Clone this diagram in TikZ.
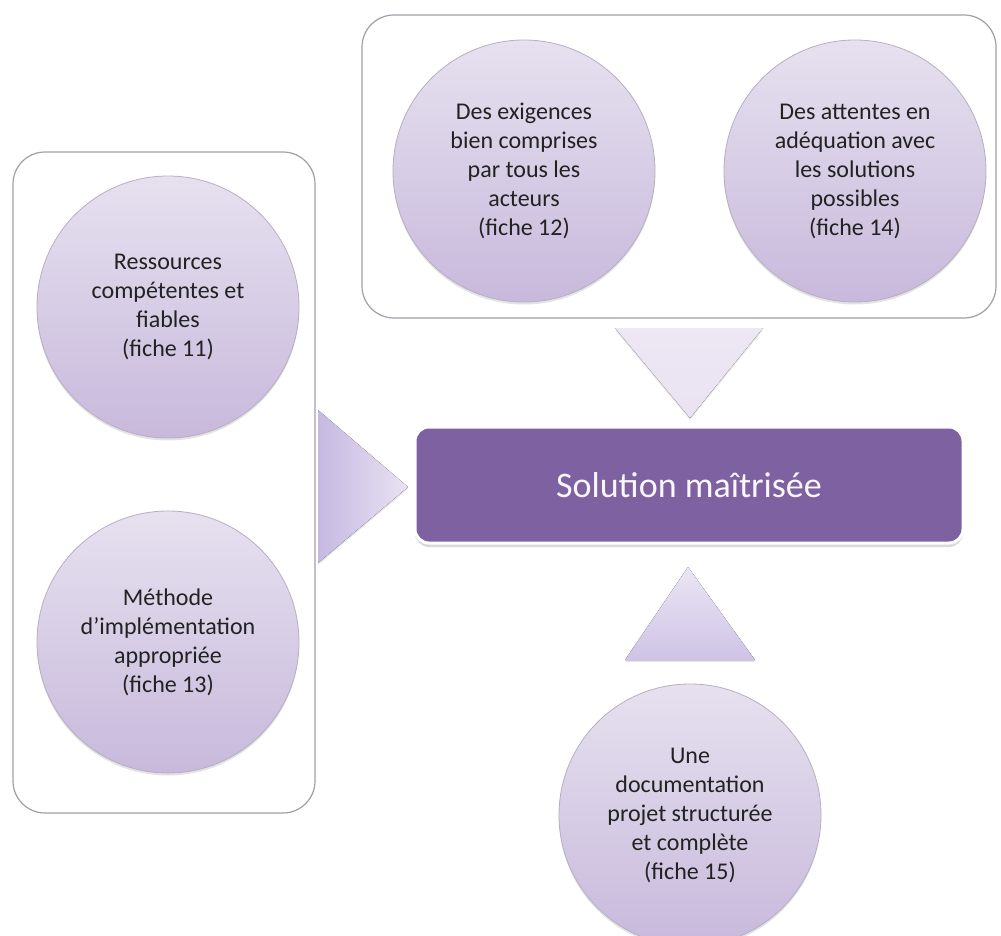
\documentclass[tikz,border=0pt]{standalone}
\usepackage{fontspec}
\setmainfont{Carlito}
\usetikzlibrary{shadows}
\definecolor{boxpurple}{HTML}{7D61A0}
\definecolor{lavtop}{HTML}{E6E1EF}
\definecolor{lavbot}{HTML}{C8B9DC}
\definecolor{lavedge}{HTML}{B7AEC2}
\definecolor{framegrey}{HTML}{A29EA8}
\definecolor{txt}{HTML}{222222}
\definecolor{arrowdark}{HTML}{C6B9E2}
\definecolor{arrowlight}{HTML}{E9E2F2}
\begin{document}
\begin{tikzpicture}[x=1pt,y=-1pt,
  container/.style={draw=framegrey, line width=1.2pt, rounded corners=32pt, fill=white},
  bubble/.style={circle, minimum size=262pt, inner sep=0pt, draw=lavedge, line width=0.8pt,
    top color=lavtop, bottom color=lavbot, align=center, text=txt,
    font=\fontsize{24}{29}\selectfont,
    drop shadow={opacity=0.22, shadow xshift=0pt, shadow yshift=-2.5pt}},
  pointer/.style={draw=none,
    drop shadow={opacity=0.2, shadow xshift=0pt, shadow yshift=-2pt}},
  central/.style={rectangle, rounded corners=14pt, minimum width=548pt, minimum height=116pt,
    fill=boxpurple, draw=white, line width=3pt, text=white!95!boxpurple,
    font=\fontsize{36}{40}\selectfont,
    drop shadow={opacity=0.3, shadow xshift=0pt, shadow yshift=-4pt}}]
\useasboundingbox (0,0) rectangle (1001,936);
\clip (0,0) rectangle (1001,936);

% grouping frames
\draw[container] (13,152) rectangle (315,813);
\draw[container] (362,15) rectangle (996,318);

% left group
\node[bubble] (res) at (168,307) {Ressources\\compétentes et\\fiables\\(fiche 11)};
\node[bubble] (meth) at (168,642) {Méthode\\d’implémentation\\appropriée\\(fiche 13)};

% top group
\node[bubble] (exig) at (524,171) {Des exigences\\bien comprises\\par tous les\\acteurs\\(fiche 12)};
\node[bubble] (att) at (855,171) {Des attentes en\\adéquation avec\\les solutions\\possibles\\(fiche 14)};

% bottom item
\node[bubble] (doc) at (690,815) {Une\\documentation\\projet structurée\\et complète\\(fiche 15)};

% pointing triangles
\fill[pointer, left color=arrowdark, right color=arrowlight]
  (318,410) -- (408,487) -- (318,563) -- cycle;
\fill[pointer, top color=arrowlight!80!white, bottom color=arrowlight]
  (615,328) -- (763,328) -- (690,418) -- cycle;
\fill[pointer, top color=arrowlight!90!white, bottom color=arrowdark!85!white]
  (688,567) -- (755,660) -- (625,660) -- cycle;

% result
\node[central] (sol) at (689,485) {Solution maîtrisée};
\end{tikzpicture}
\end{document}
